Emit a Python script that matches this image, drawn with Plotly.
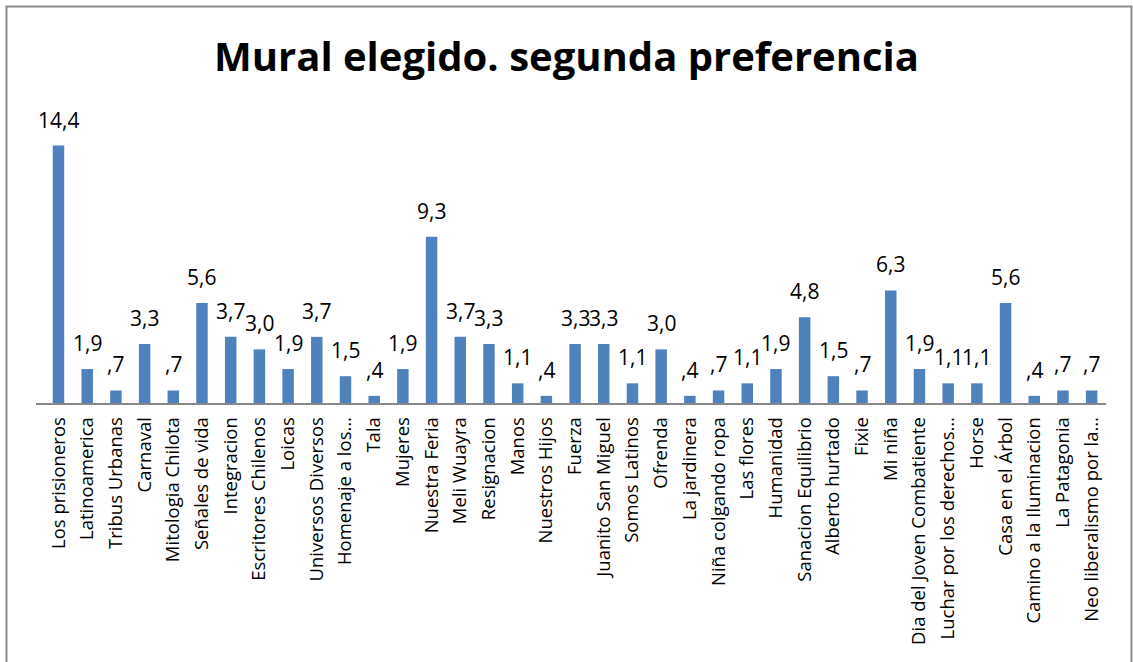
import plotly.graph_objects as go

categories = [
    "Los prisioneros", "Latinoamerica", "Tribus Urbanas", "Carnaval", "Mitologia Chilota",
    "Señales de vida", "Integracion", "Escritores Chilenos", "Loicas", "Universos Diversos",
    "Homenaje a los…", "Tala", "Mujeres", "Nuestra Feria", "Meli Wuayra", "Resignacion",
    "Manos", "Nuestros Hijos", "Fuerza", "Juanito San Miguel", "Somos Latinos", "Ofrenda",
    "La jardinera", "Niña colgando ropa", "Las flores", "Humanidad", "Sanacion Equilibrio",
    "Alberto hurtado", "Fixie", "Mi niña", "Dia del Joven Combatiente",
    "Luchar por los derechos…", "Horse", "Casa en el Árbol", "Camino a la Iluminacion",
    "La Patagonia", "Neo liberalismo por la…",
]
values = [
    14.4, 1.9, 0.7, 3.3, 0.7, 5.6, 3.7, 3.0, 1.9, 3.7,
    1.5, 0.4, 1.9, 9.3, 3.7, 3.3, 1.1, 0.4, 3.3, 3.3,
    1.1, 3.0, 0.4, 0.7, 1.1, 1.9, 4.8, 1.5, 0.7, 6.3,
    1.9, 1.1, 1.1, 5.6, 0.4, 0.7, 0.7,
]


def fmt(v):
    s = f"{v:.1f}".replace(".", ",")
    if s.startswith("0"):
        s = s[1:]
    return s


labels = [fmt(v) for v in values]

fig = go.Figure(
    go.Bar(
        x=categories,
        y=values,
        marker=dict(color="#4F81BD", line=dict(width=0)),
        hovertemplate="%{x}: %{y}<extra></extra>",
    )
)

annotations = [
    dict(
        x=c, y=v, xref="x", yref="y", text=t, showarrow=False,
        xanchor="center", yanchor="bottom", yshift=10,
        font=dict(family="Open Sans", size=21, color="#000000"),
    )
    for c, v, t in zip(categories, values, labels)
]

fig.update_layout(
    width=1133,
    height=662,
    paper_bgcolor="#FFFFFF",
    plot_bgcolor="#FFFFFF",
    margin=dict(l=36, r=27, t=117, b=259),
    bargap=0.6,
    showlegend=False,
    annotations=annotations,
    title=dict(
        text="<b>Mural elegido. segunda preferencia</b>",
        x=0.5,
        xanchor="center",
        y=0.914,
        yanchor="middle",
        font=dict(family="Open Sans", size=40, color="#000000"),
    ),
    xaxis=dict(
        type="category",
        tickangle=-90,
        tickfont=dict(family="Open Sans", size=18.5, color="#000000"),
        showline=True,
        linecolor="#878787",
        linewidth=1.5,
        ticks="outside",
        ticklen=5,
        tickcolor="rgba(0,0,0,0)",
        showgrid=False,
        automargin=False,
    ),
    yaxis=dict(
        range=[0, 16],
        visible=False,
        showgrid=False,
        zeroline=False,
        fixedrange=True,
    ),
    shapes=[
        dict(
            type="rect", xref="paper", yref="paper",
            x0=-0.0276, x1=1.0238, y0=-1.0, y1=1.3868,
            line=dict(color="#8C8C8C", width=2),
            fillcolor="rgba(0,0,0,0)",
        )
    ],
)

fig.write_html(
    "out.html",
    config={"displayModeBar": False},
    post_script="document.body.style.margin='0';",
)
